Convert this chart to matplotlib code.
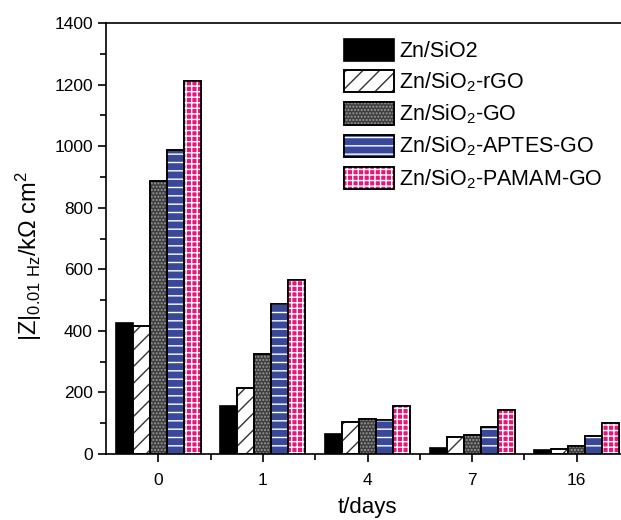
import matplotlib
matplotlib.use("Agg")
import matplotlib.pyplot as plt
import numpy as np
from matplotlib.patches import Patch
from matplotlib.legend_handler import HandlerTuple
from matplotlib.ticker import MultipleLocator

plt.rcParams.update({"font.family": ["Liberation Sans", "DejaVu Sans"], "font.size": 12,
                     "mathtext.default": "regular", "hatch.linewidth": 1.0})

days = ["0", "1", "4", "7", "16"]
labels = ["Zn/SiO2", "Zn/SiO$_2$-rGO", "Zn/SiO$_2$-GO",
          "Zn/SiO$_2$-APTES-GO", "Zn/SiO$_2$-PAMAM-GO"]
z_sio2 = [424, 156, 66, 20, 14]
z_rgo = [416, 215, 103, 56, 15]
z_go = [886, 325, 114, 61, 27]
z_aptes = [988, 486, 111, 87, 58]
z_pamam = [1210, 566, 156, 144, 101]
series = [z_sio2, z_rgo, z_go, z_aptes, z_pamam]

# face colour, hatch, hatch colour
styles = [("black", None, None),
          ("white", "//", "#333333"),
          ("#3e3e3e", ".....", "#9a9a9a"),
          ("#3a4899", "--", "white"),
          ("#e8157a", "+++", "white")]

fig = plt.figure(figsize=(6.21, 5.2), dpi=100)
ax = fig.add_axes([106/621, 1-454/520, 523/621, 431/520])

x = np.arange(len(days))
w = 0.1625
for i, (vals, (fc, h, hc)) in enumerate(zip(series, styles)):
    pos = x + (i - 2) * w
    ax.bar(pos, vals, w, color=fc, edgecolor="black", linewidth=1.2, zorder=2)
    if h:
        ax.bar(pos, vals, w, color="none", edgecolor=hc, linewidth=0, hatch=h, zorder=3)
        ax.bar(pos, vals, w, color="none", edgecolor="black", linewidth=1.2, zorder=4)

ax.set_xlim(-0.5, 4.5)
ax.set_ylim(0, 1400)
ax.set_xticks(x)
ax.set_xticklabels(days)
ax.set_xticks(x[:-1] + 0.5, minor=True)
ax.yaxis.set_major_locator(MultipleLocator(200))
ax.yaxis.set_minor_locator(MultipleLocator(100))
ax.tick_params(which="major", direction="out", length=6, width=1.2, labelsize=12.5)
ax.tick_params(which="minor", direction="out", length=4, width=1.2)
ax.tick_params(axis="x", pad=8)
for s in ax.spines.values():
    s.set_linewidth(1.2)

ax.set_ylabel("|Z|$_{0.01\\ Hz}$/k\u03a9 cm$^2$", fontsize=17)
ax.yaxis.set_label_coords(-0.118, 0.46)
ax.set_xlabel("t/days", fontsize=16, labelpad=6)

handles = []
for fc, h, hc in styles:
    base = Patch(facecolor=fc, edgecolor="black", linewidth=1.2)
    if h:
        over = Patch(facecolor="none", edgecolor=hc, linewidth=0, hatch=h)
        edge = Patch(facecolor="none", edgecolor="black", linewidth=1.2)
        handles.append((base, over, edge))
    else:
        handles.append(base)
ax.legend(handles, labels, loc="upper left", bbox_to_anchor=(0.439, 0.983),
          handler_map={tuple: HandlerTuple(ndivide=1, pad=0)},
          frameon=False, fontsize=15.5, handlelength=2.3, handleheight=1.2,
          handletextpad=0.25, labelspacing=0.38, borderaxespad=0)
fig.savefig("out.png", dpi=100)
